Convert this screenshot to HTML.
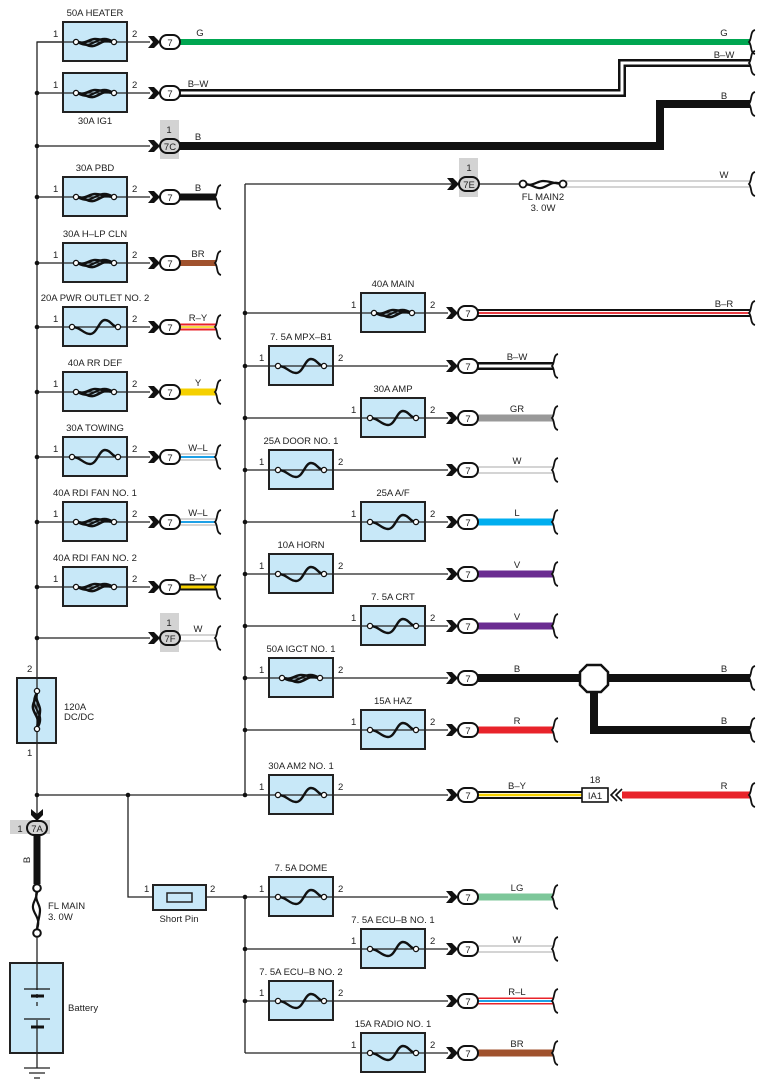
<!DOCTYPE html>
<html><head><meta charset="utf-8"><style>
html,body{margin:0;padding:0;background:#fff}
svg{display:block}
text{font-family:"Liberation Sans",sans-serif;font-size:9.5px;fill:#222}
</style></head><body>
<svg width="770" height="1090" viewBox="0 0 770 1090" xmlns="http://www.w3.org/2000/svg">
<defs>
<g id="fs">
 <path d="M-23,0 C-14,0 -12,7 -5,7 C2,7 4,-7 10,-7 C16,-7 17,0 23,0" fill="none" stroke="#111" stroke-width="2.4"/>
 <circle cx="-23" cy="0" r="2.6" fill="#fff" stroke="#111" stroke-width="1.3"/>
 <circle cx="23" cy="0" r="2.6" fill="#fff" stroke="#111" stroke-width="1.3"/>
</g>
<g id="fl">
 <path d="M-19,0 C-10,0 -8,5 -2,4 C5,3 8,-4 19,0" fill="none" stroke="#111" stroke-width="2.6"/>
 <path d="M-19,0 C-10,3 -6,-3 0,-3 C6,-3 10,-1 19,0" fill="none" stroke="#111" stroke-width="2.6"/>
 <path d="M-16,1 C-8,5 -4,2 2,-1 C7,-4 12,-4 17,-1" fill="none" stroke="#111" stroke-width="2"/>
 <circle cx="-19" cy="0" r="2.6" fill="#fff" stroke="#111" stroke-width="1.3"/>
 <circle cx="19" cy="0" r="2.6" fill="#fff" stroke="#111" stroke-width="1.3"/>
</g>
<polygon id="ch" points="-12,-6 -6,-6 0,0 -6,6 -12,6 -7,0" fill="#111"/>
<path id="br" d="M3,-12 C-2,-11 0,-3 -3,0 C0,3 -2,11 3,12" fill="none" stroke="#111" stroke-width="1.8"/>
</defs>

<g stroke="#222" stroke-width="1.3" fill="none">
<path d="M63,42 H37 V678"/>
<path d="M37,743 V818"/>
<path d="M37,795 H245"/>
<path d="M128,795 V897 H153"/>
<path d="M206,897 H245"/>
<path d="M245,184 V795"/>
<path d="M245,897 V1053"/>
<path d="M245,184 H458"/>
<path d="M478,184 H520"/>
<path d="M37,42 H150"/><path d="M37,93 H150"/><path d="M37,146 H150"/><path d="M37,197 H150"/>
<path d="M37,263 H150"/><path d="M37,327 H150"/><path d="M37,392 H150"/><path d="M37,457 H150"/>
<path d="M37,522 H150"/><path d="M37,587 H150"/><path d="M37,638 H150"/>
<path d="M245,313 H448"/><path d="M245,366 H448"/><path d="M245,418 H448"/><path d="M245,470 H448"/>
<path d="M245,522 H448"/><path d="M245,574 H448"/><path d="M245,626 H448"/><path d="M245,678 H448"/>
<path d="M245,730 H448"/><path d="M245,795 H448"/>
<path d="M245,897 H448"/><path d="M245,949 H448"/><path d="M245,1001 H448"/><path d="M245,1053 H448"/>
</g>
<g fill="#111">
<circle cx="37" cy="93" r="2.3"/><circle cx="37" cy="146" r="2.3"/><circle cx="37" cy="197" r="2.3"/>
<circle cx="37" cy="263" r="2.3"/><circle cx="37" cy="327" r="2.3"/><circle cx="37" cy="392" r="2.3"/>
<circle cx="37" cy="457" r="2.3"/><circle cx="37" cy="522" r="2.3"/><circle cx="37" cy="587" r="2.3"/>
<circle cx="37" cy="638" r="2.3"/><circle cx="37" cy="795" r="2.3"/><circle cx="128" cy="795" r="2.3"/>
<circle cx="245" cy="795" r="2.3"/>
<circle cx="245" cy="313" r="2.3"/><circle cx="245" cy="366" r="2.3"/><circle cx="245" cy="418" r="2.3"/>
<circle cx="245" cy="470" r="2.3"/><circle cx="245" cy="522" r="2.3"/><circle cx="245" cy="574" r="2.3"/>
<circle cx="245" cy="626" r="2.3"/><circle cx="245" cy="678" r="2.3"/><circle cx="245" cy="730" r="2.3"/>
<circle cx="245" cy="897" r="2.3"/><circle cx="245" cy="949" r="2.3"/><circle cx="245" cy="1001" r="2.3"/>
</g>

<g fill="#d3d3d3">
<rect x="160" y="120" width="19" height="39"/>
<rect x="160" y="613" width="19" height="39"/>
<rect x="459" y="158" width="19" height="39"/>
<rect x="10" y="820" width="40" height="14"/>
</g>

<g fill="#c8e8f8" stroke="#222" stroke-width="2">
<rect x="63" y="22" width="64" height="39"/><rect x="63" y="73" width="64" height="39"/>
<rect x="63" y="177" width="64" height="39"/><rect x="63" y="243" width="64" height="39"/>
<rect x="63" y="307" width="64" height="39"/><rect x="63" y="372" width="64" height="39"/>
<rect x="63" y="437" width="64" height="39"/><rect x="63" y="502" width="64" height="39"/>
<rect x="63" y="567" width="64" height="39"/>
<rect x="17" y="678" width="39" height="65"/>
<rect x="361" y="293" width="64" height="39"/><rect x="269" y="346" width="64" height="39"/>
<rect x="361" y="398" width="64" height="39"/><rect x="269" y="450" width="64" height="39"/>
<rect x="361" y="502" width="64" height="39"/><rect x="269" y="554" width="64" height="39"/>
<rect x="361" y="606" width="64" height="39"/><rect x="269" y="658" width="64" height="39"/>
<rect x="361" y="710" width="64" height="39"/><rect x="269" y="775" width="64" height="39"/>
<rect x="269" y="877" width="64" height="39"/><rect x="361" y="929" width="64" height="39"/>
<rect x="269" y="981" width="64" height="39"/><rect x="361" y="1033" width="64" height="39"/>
<rect x="153" y="885" width="53" height="25"/>
<rect x="10" y="963" width="53" height="90"/>
</g>
<rect x="167" y="893" width="25" height="9" fill="#c8e8f8" stroke="#222" stroke-width="1.5"/>

<g stroke="#222" stroke-width="1.3">
<path d="M63,42H127M63,93H127M63,197H127M63,263H127M63,327H127M63,392H127M63,457H127M63,522H127M63,587H127"/>
<path d="M361,313H425M269,366H333M361,418H425M269,470H333M361,522H425M269,574H333M361,626H425M269,678H333M361,730H425M269,795H333"/>
<path d="M269,897H333M361,949H425M269,1001H333M361,1053H425"/>
<path d="M37,678V743"/>
</g>
<use href="#fl" x="95" y="42"/><use href="#fl" x="95" y="93"/><use href="#fl" x="95" y="197"/>
<use href="#fl" x="95" y="263"/><use href="#fs" x="95" y="327"/><use href="#fl" x="95" y="392"/>
<use href="#fs" x="95" y="457"/><use href="#fl" x="95" y="522"/><use href="#fl" x="95" y="587"/>
<use href="#fl" x="393" y="313"/><use href="#fs" x="301" y="366"/><use href="#fs" x="393" y="418"/>
<use href="#fs" x="301" y="470"/><use href="#fs" x="393" y="522"/><use href="#fs" x="301" y="574"/>
<use href="#fs" x="393" y="626"/><use href="#fl" x="301" y="678"/><use href="#fs" x="393" y="730"/>
<use href="#fs" x="301" y="795"/><use href="#fs" x="301" y="897"/><use href="#fs" x="393" y="949"/>
<use href="#fs" x="301" y="1001"/><use href="#fs" x="393" y="1053"/>
<g transform="translate(37,710) rotate(90)"><use href="#fl"/></g>

<g fill="none" stroke-linejoin="miter">
<path d="M180,42H750" stroke="#00a651" stroke-width="6"/>
<path d="M180,93H622V63H750" stroke="#111" stroke-width="8"/>
<path d="M180,93H622V63H750" stroke="#fff" stroke-width="3"/>
<path d="M180,146H660V104H750" stroke="#111" stroke-width="8"/>
<path d="M180,197H216" stroke="#111" stroke-width="7"/>
<path d="M180,263H216" stroke="#a0522d" stroke-width="6"/>
<path d="M180,327H216" stroke="#e8232a" stroke-width="7"/>
<path d="M180,327H216" stroke="#fff" stroke-width="3"/>
<path d="M180,327H216" stroke="#f5d000" stroke-width="1.5"/>
<path d="M180,392H216" stroke="#f5d000" stroke-width="7"/>
<path d="M180,457H216" stroke="#aaa" stroke-width="7"/><path d="M180,457H216" stroke="#fff" stroke-width="5"/><path d="M180,457H216" stroke="#1ea0e6" stroke-width="2"/>
<path d="M180,522H216" stroke="#aaa" stroke-width="7"/><path d="M180,522H216" stroke="#fff" stroke-width="5"/><path d="M180,522H216" stroke="#1ea0e6" stroke-width="2"/>
<path d="M180,587H216" stroke="#111" stroke-width="7"/><path d="M180,587H216" stroke="#f5d000" stroke-width="3"/>
<path d="M180,638H216" stroke="#aaa" stroke-width="7"/><path d="M180,638H216" stroke="#fff" stroke-width="5"/>
<path d="M566,184H750" stroke="#aaa" stroke-width="7"/><path d="M566,184H750" stroke="#fff" stroke-width="5"/>
<path d="M478,313H750" stroke="#111" stroke-width="8"/><path d="M478,313H750" stroke="#fff" stroke-width="4"/><path d="M478,313H750" stroke="#e8232a" stroke-width="1.8"/>
<path d="M478,366H553" stroke="#111" stroke-width="8"/><path d="M478,366H553" stroke="#fff" stroke-width="3"/>
<path d="M478,418H553" stroke="#999" stroke-width="7"/>
<path d="M478,470H553" stroke="#aaa" stroke-width="7"/><path d="M478,470H553" stroke="#fff" stroke-width="5"/>
<path d="M478,522H553" stroke="#00aeef" stroke-width="7"/>
<path d="M478,574H553" stroke="#6a2c91" stroke-width="7"/>
<path d="M478,626H553" stroke="#6a2c91" stroke-width="7"/>
<path d="M478,678H750" stroke="#111" stroke-width="8"/>
<path d="M594,678V730H750" stroke="#111" stroke-width="8"/>
<path d="M478,730H553" stroke="#e8232a" stroke-width="7"/>
<path d="M478,795H582" stroke="#111" stroke-width="8"/><path d="M478,795H582" stroke="#fff" stroke-width="4"/><path d="M478,795H582" stroke="#f5d000" stroke-width="2.5"/>
<path d="M622,795H750" stroke="#e8232a" stroke-width="7"/>
<path d="M478,897H553" stroke="#7dc79a" stroke-width="7"/>
<path d="M478,949H553" stroke="#aaa" stroke-width="7"/><path d="M478,949H553" stroke="#fff" stroke-width="5"/>
<path d="M478,1001H553" stroke="#e8232a" stroke-width="7"/><path d="M478,1001H553" stroke="#fff" stroke-width="4"/><path d="M478,1001H553" stroke="#1ea0e6" stroke-width="2"/>
<path d="M478,1053H553" stroke="#a0522d" stroke-width="7"/>
<path d="M37,836V884" stroke="#111" stroke-width="7"/>
</g>

<polygon points="587,665 601,665 608,672 608,685 601,692 587,692 580,685 580,672" fill="#fff" stroke="#111" stroke-width="2.5"/>
<rect x="582" y="788" width="26" height="14" fill="#fff" stroke="#111" stroke-width="1.6"/>
<text x="595" y="799" text-anchor="middle">IA1</text>
<text x="595" y="783" text-anchor="middle">18</text>
<path d="M617,789 L611,795 L617,801 M622,789 L616,795 L622,801" fill="none" stroke="#111" stroke-width="1.6"/>

<g transform="translate(543,184)">
<path d="M-19,0 C-10,0 -8,5 -2,4 C5,3 8,-4 19,0 M-19,0 C-10,3 -6,-3 0,-3 C6,-3 10,-1 19,0" fill="none" stroke="#111" stroke-width="2.2"/>
<circle cx="-20" r="3.5" fill="#fff" stroke="#111" stroke-width="1.8"/><circle cx="20" r="3.5" fill="#fff" stroke="#111" stroke-width="1.8"/>
</g>

<g>
<use href="#ch" x="160" y="42"/><use href="#ch" x="160" y="93"/><use href="#ch" x="160" y="146"/>
<use href="#ch" x="160" y="197"/><use href="#ch" x="160" y="263"/><use href="#ch" x="160" y="327"/>
<use href="#ch" x="160" y="392"/><use href="#ch" x="160" y="457"/><use href="#ch" x="160" y="522"/>
<use href="#ch" x="160" y="587"/><use href="#ch" x="160" y="638"/><use href="#ch" x="459" y="184"/>
<use href="#ch" x="458" y="313"/><use href="#ch" x="458" y="366"/><use href="#ch" x="458" y="418"/>
<use href="#ch" x="458" y="470"/><use href="#ch" x="458" y="522"/><use href="#ch" x="458" y="574"/>
<use href="#ch" x="458" y="626"/><use href="#ch" x="458" y="678"/><use href="#ch" x="458" y="730"/>
<use href="#ch" x="458" y="795"/><use href="#ch" x="458" y="897"/><use href="#ch" x="458" y="949"/>
<use href="#ch" x="458" y="1001"/><use href="#ch" x="458" y="1053"/>
<g transform="translate(37,821) rotate(90)"><use href="#ch"/></g>
</g>
<g fill="#fff" stroke="#111" stroke-width="2">
<rect x="160" y="35" width="20" height="14" rx="7"/><rect x="160" y="86" width="20" height="14" rx="7"/>
<rect x="160" y="139" width="20" height="14" rx="7" fill="#d3d3d3"/><rect x="160" y="190" width="20" height="14" rx="7"/>
<rect x="160" y="256" width="20" height="14" rx="7"/><rect x="160" y="320" width="20" height="14" rx="7"/>
<rect x="160" y="385" width="20" height="14" rx="7"/><rect x="160" y="450" width="20" height="14" rx="7"/>
<rect x="160" y="515" width="20" height="14" rx="7"/><rect x="160" y="580" width="20" height="14" rx="7"/>
<rect x="160" y="631" width="20" height="14" rx="7" fill="#d3d3d3"/>
<rect x="459" y="177" width="20" height="14" rx="7" fill="#d3d3d3"/>
<rect x="458" y="306" width="20" height="14" rx="7"/><rect x="458" y="359" width="20" height="14" rx="7"/>
<rect x="458" y="411" width="20" height="14" rx="7"/><rect x="458" y="463" width="20" height="14" rx="7"/>
<rect x="458" y="515" width="20" height="14" rx="7"/><rect x="458" y="567" width="20" height="14" rx="7"/>
<rect x="458" y="619" width="20" height="14" rx="7"/><rect x="458" y="671" width="20" height="14" rx="7"/>
<rect x="458" y="723" width="20" height="14" rx="7"/><rect x="458" y="788" width="20" height="14" rx="7"/>
<rect x="458" y="890" width="20" height="14" rx="7"/><rect x="458" y="942" width="20" height="14" rx="7"/>
<rect x="458" y="994" width="20" height="14" rx="7"/><rect x="458" y="1046" width="20" height="14" rx="7"/>
<rect x="27" y="821" width="20" height="14" rx="7" fill="#d3d3d3"/>
</g>
<g text-anchor="middle">
<text x="170" y="46">7</text><text x="170" y="97">7</text><text x="170" y="150">7C</text><text x="170" y="201">7</text>
<text x="170" y="267">7</text><text x="170" y="331">7</text><text x="170" y="396">7</text><text x="170" y="461">7</text>
<text x="170" y="526">7</text><text x="170" y="591">7</text><text x="170" y="642">7F</text>
<text x="169" y="133">1</text><text x="169" y="626">1</text><text x="469" y="171">1</text>
<text x="469" y="188">7E</text>
<text x="468" y="317">7</text><text x="468" y="370">7</text><text x="468" y="422">7</text><text x="468" y="474">7</text>
<text x="468" y="526">7</text><text x="468" y="578">7</text><text x="468" y="630">7</text><text x="468" y="682">7</text>
<text x="468" y="734">7</text><text x="468" y="799">7</text><text x="468" y="901">7</text><text x="468" y="953">7</text>
<text x="468" y="1005">7</text><text x="468" y="1057">7</text>
<text x="37" y="832">7A</text><text x="20" y="832">1</text>
</g>

<g>
<use href="#br" x="752" y="42"/><use href="#br" x="752" y="63"/><use href="#br" x="752" y="104"/><use href="#br" x="752" y="184"/>
<use href="#br" x="218" y="197"/><use href="#br" x="218" y="263"/><use href="#br" x="218" y="327"/><use href="#br" x="218" y="392"/>
<use href="#br" x="218" y="457"/><use href="#br" x="218" y="522"/><use href="#br" x="218" y="587"/><use href="#br" x="218" y="638"/>
<use href="#br" x="752" y="313"/><use href="#br" x="555" y="366"/><use href="#br" x="555" y="418"/><use href="#br" x="555" y="470"/>
<use href="#br" x="555" y="522"/><use href="#br" x="555" y="574"/><use href="#br" x="555" y="626"/><use href="#br" x="752" y="678"/>
<use href="#br" x="752" y="730"/><use href="#br" x="555" y="730"/><use href="#br" x="752" y="795"/>
<use href="#br" x="555" y="897"/><use href="#br" x="555" y="949"/><use href="#br" x="555" y="1001"/><use href="#br" x="555" y="1053"/>
</g>

<g text-anchor="middle">
<text x="200" y="36">G</text><text x="724" y="36">G</text>
<text x="198" y="87">B–W</text><text x="724" y="58">B–W</text>
<text x="198" y="140">B</text><text x="724" y="99">B</text>
<text x="198" y="191">B</text><text x="198" y="257">BR</text><text x="198" y="321">R–Y</text>
<text x="198" y="386">Y</text><text x="198" y="451">W–L</text><text x="198" y="516">W–L</text>
<text x="198" y="581">B–Y</text><text x="198" y="632">W</text><text x="724" y="178">W</text>
<text x="724" y="307">B–R</text><text x="517" y="360">B–W</text><text x="517" y="412">GR</text>
<text x="517" y="464">W</text><text x="517" y="516">L</text><text x="517" y="568">V</text><text x="517" y="620">V</text>
<text x="517" y="672">B</text><text x="724" y="672">B</text><text x="724" y="724">B</text><text x="517" y="724">R</text>
<text x="517" y="789">B–Y</text><text x="724" y="789">R</text>
<text x="517" y="891">LG</text><text x="517" y="943">W</text><text x="517" y="995">R–L</text><text x="517" y="1047">BR</text>
</g>

<g text-anchor="middle">
<text x="95" y="16">50A HEATER</text><text x="95" y="124">30A IG1</text>
<text x="95" y="171">30A PBD</text><text x="95" y="237">30A H–LP CLN</text>
<text x="95" y="301">20A PWR OUTLET NO. 2</text><text x="95" y="366">40A RR DEF</text>
<text x="95" y="431">30A TOWING</text><text x="95" y="496">40A RDI FAN NO. 1</text>
<text x="95" y="561">40A RDI FAN NO. 2</text>
<text x="393" y="287">40A MAIN</text><text x="301" y="340">7. 5A MPX–B1</text>
<text x="393" y="392">30A AMP</text><text x="301" y="444">25A DOOR NO. 1</text>
<text x="393" y="496">25A A/F</text><text x="301" y="548">10A HORN</text>
<text x="393" y="600">7. 5A CRT</text><text x="301" y="652">50A IGCT NO. 1</text>
<text x="393" y="704">15A HAZ</text><text x="301" y="769">30A AM2 NO. 1</text>
<text x="301" y="871">7. 5A DOME</text><text x="393" y="923">7. 5A ECU–B NO. 1</text>
<text x="301" y="975">7. 5A ECU–B NO. 2</text><text x="393" y="1027">15A RADIO NO. 1</text>
<text x="179" y="922">Short Pin</text>
<text x="543" y="200">FL MAIN2</text><text x="543" y="211">3. 0W</text>
</g>
<g>
<text x="53" y="37">1</text><text x="132" y="37">2</text><text x="53" y="88">1</text><text x="132" y="88">2</text>
<text x="53" y="192">1</text><text x="132" y="192">2</text><text x="53" y="258">1</text><text x="132" y="258">2</text>
<text x="53" y="322">1</text><text x="132" y="322">2</text><text x="53" y="387">1</text><text x="132" y="387">2</text>
<text x="53" y="452">1</text><text x="132" y="452">2</text><text x="53" y="517">1</text><text x="132" y="517">2</text>
<text x="53" y="582">1</text><text x="132" y="582">2</text>
<text x="351" y="308">1</text><text x="430" y="308">2</text><text x="259" y="361">1</text><text x="338" y="361">2</text>
<text x="351" y="413">1</text><text x="430" y="413">2</text><text x="259" y="465">1</text><text x="338" y="465">2</text>
<text x="351" y="517">1</text><text x="430" y="517">2</text><text x="259" y="569">1</text><text x="338" y="569">2</text>
<text x="351" y="621">1</text><text x="430" y="621">2</text><text x="259" y="673">1</text><text x="338" y="673">2</text>
<text x="351" y="725">1</text><text x="430" y="725">2</text><text x="259" y="790">1</text><text x="338" y="790">2</text>
<text x="259" y="892">1</text><text x="338" y="892">2</text><text x="351" y="944">1</text><text x="430" y="944">2</text>
<text x="259" y="996">1</text><text x="338" y="996">2</text><text x="351" y="1048">1</text><text x="430" y="1048">2</text>
<text x="144" y="892">1</text><text x="210" y="892">2</text>
<text x="27" y="672">2</text><text x="27" y="756">1</text>
<text x="64" y="710">120A</text><text x="64" y="720">DC/DC</text>
</g>

<text transform="translate(30,860) rotate(-90)" text-anchor="middle">B</text>
<g transform="translate(37,910) rotate(90)">
<path d="M-19,0 C-10,0 -8,5 -2,4 C5,3 8,-4 19,0 M-19,0 C-10,3 -6,-3 0,-3 C6,-3 10,-1 19,0" fill="none" stroke="#111" stroke-width="2.2"/>
</g>
<circle cx="37" cy="888" r="3.8" fill="#fff" stroke="#111" stroke-width="2"/>
<circle cx="37" cy="933" r="3.8" fill="#fff" stroke="#111" stroke-width="2"/>
<text x="48" y="909">FL MAIN</text><text x="48" y="920">3. 0W</text>
<path d="M37,937V963" stroke="#222" stroke-width="1.3"/>
<path d="M37,963V990M37,994V998M37,1002V1006M37,1020V1068" stroke="#222" stroke-width="1.3"/>
<path d="M24,989H50M24,1019H50" stroke="#111" stroke-width="1.3"/>
<path d="M31,996H44M31,1027H44" stroke="#111" stroke-width="3"/>
<text x="68" y="1011">Battery</text>
<path d="M24,1068H50M29,1073H45M34,1078H40" stroke="#222" stroke-width="1.3"/>
</svg>
</body></html>
